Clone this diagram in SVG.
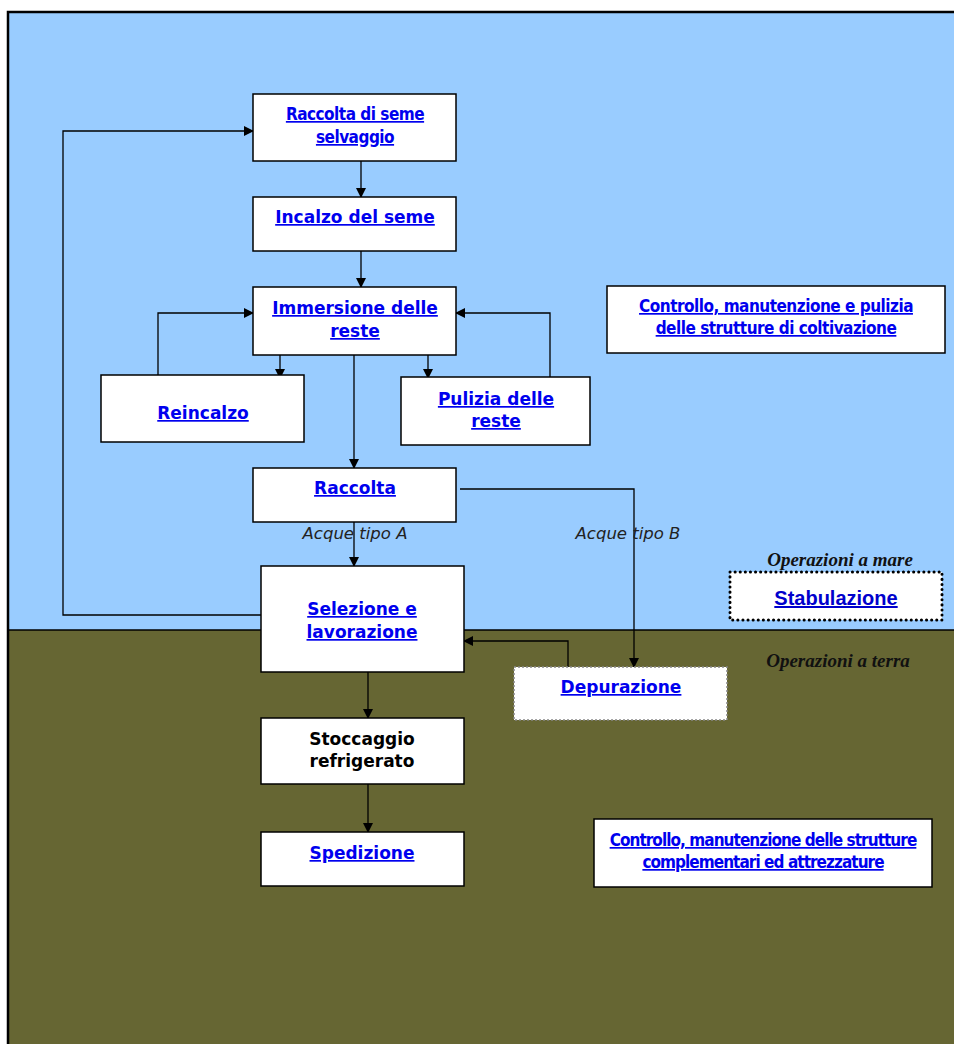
<svg xmlns="http://www.w3.org/2000/svg" width="954" height="1044" viewBox="0 0 954 1044">
<defs>
<marker id="ah" markerWidth="10" markerHeight="10" refX="9" refY="5" orient="auto" markerUnits="userSpaceOnUse">
<path d="M0,0 L10,5 L0,10 Z" fill="#000"/>
</marker>
<style>
.box{fill:#fff;stroke:#000;stroke-width:1.5}
.lk{font-family:"DejaVu Sans",Verdana,sans-serif;font-weight:bold;font-size:17px;fill:#0000ee;text-decoration:underline;text-anchor:middle}
.nk{font-family:"DejaVu Sans",Verdana,sans-serif;font-weight:bold;font-size:17px;fill:#000;text-anchor:middle}
.cd{font-family:"DejaVu Sans Condensed","DejaVu Sans",sans-serif;font-weight:bold;font-size:17px;fill:#0000ee;text-decoration:underline;text-anchor:middle;letter-spacing:-0.5px}
.tight{letter-spacing:-0.95px}
.it{font-family:"DejaVu Sans",Verdana,sans-serif;font-style:italic;font-size:16.5px;fill:#222;text-anchor:middle}
.op{font-family:"Liberation Serif","Times New Roman",serif;font-style:italic;font-weight:bold;font-size:19px;fill:#111;text-anchor:middle}
.cn{fill:none;stroke:#000;stroke-width:1.3}
</style>
</defs>
<rect x="0" y="0" width="954" height="1044" fill="#fff"/>
<rect x="8" y="12" width="950" height="618" fill="#99ccff"/>
<rect x="8" y="630" width="950" height="420" fill="#666633"/>
<line x1="8" y1="630" x2="954" y2="630" stroke="#000" stroke-width="1.5"/>
<path d="M8,1044 V12 H954" fill="none" stroke="#000" stroke-width="2.5"/>

<g id="connectors">
<path class="cn" d="M264,615 H63 V131 H253" marker-end="url(#ah)"/>
<path class="cn" d="M361,161 V197" marker-end="url(#ah)"/>
<path class="cn" d="M361,251 V287" marker-end="url(#ah)"/>
<path class="cn" d="M280,352 V378" marker-end="url(#ah)"/>
<path class="cn" d="M158,380 V313 H253" marker-end="url(#ah)"/>
<path class="cn" d="M428,352 V378" marker-end="url(#ah)"/>
<path class="cn" d="M550,380 V313 H456" marker-end="url(#ah)"/>
<path class="cn" d="M354,350 V468" marker-end="url(#ah)"/>
<path class="cn" d="M354,514 V566" marker-end="url(#ah)"/>
<path class="cn" d="M460,489 H634 V667" marker-end="url(#ah)"/>
<path class="cn" d="M568,668 V641 H464" marker-end="url(#ah)"/>
<path class="cn" d="M368,668 V718" marker-end="url(#ah)"/>
<path class="cn" d="M368,782 V832" marker-end="url(#ah)"/>
<text class="it" x="355" y="539">Acque tipo A</text>
<text class="it" x="628" y="539">Acque tipo B</text>
</g>

<g id="raccolta-seme">
<rect class="box" x="253" y="94" width="203" height="67"/>
<text class="cd" x="355" y="120">Raccolta  di seme</text>
<text class="cd" x="355" y="143">selvaggio</text>
</g>
<g id="incalzo">
<rect class="box" x="253" y="197" width="203" height="54"/>
<text class="lk" x="355" y="223">Incalzo del seme</text>
</g>
<g id="immersione">
<rect class="box" x="253" y="287" width="203" height="68"/>
<text class="lk" x="355" y="314">Immersione delle</text>
<text class="lk" x="355" y="337">reste</text>
</g>
<g id="reincalzo">
<rect class="box" x="101" y="375" width="203" height="67"/>
<text class="lk" x="203" y="419">Reincalzo</text>
</g>
<g id="pulizia">
<rect class="box" x="401" y="377" width="189" height="68"/>
<text class="lk" x="496" y="405">Pulizia delle</text>
<text class="lk" x="496" y="427">reste</text>
</g>
<g id="controllo-coltivazione">
<rect class="box" x="607" y="286" width="338" height="67"/>
<text class="cd" x="776" y="312">Controllo, manutenzione e pulizia</text>
<text class="cd" x="776" y="334">delle strutture di coltivazione</text>
</g>
<g id="raccolta">
<rect class="box" x="253" y="468" width="203" height="54"/>
<text class="lk" x="355" y="494">Raccolta</text>
</g>
<g id="selezione">
<rect class="box" x="261" y="566" width="203" height="106"/>
<text class="lk" x="362" y="615">Selezione e</text>
<text class="lk" x="362" y="638">lavorazione</text>
</g>
<g id="stabulazione">
<rect x="730" y="572" width="212" height="48" fill="#fff" stroke="#000" stroke-width="3" stroke-dasharray="0.1 5" stroke-linecap="round"/>
<text x="836" y="605" font-family="Liberation Sans,Arial,sans-serif" font-weight="bold" font-size="20px" fill="#0000cc" text-anchor="middle" text-decoration="underline">Stabulazione</text>
</g>
<text class="op" x="840" y="566">Operazioni a mare</text>
<text class="op" x="838" y="667">Operazioni a terra</text>
<g id="depurazione">
<rect x="514" y="667" width="213" height="53" fill="#fff" stroke="#888" stroke-width="1.5" stroke-dasharray="2 2"/>
<text class="lk" x="621" y="693">Depurazione</text>
</g>
<g id="stoccaggio">
<rect class="box" x="261" y="718" width="203" height="66"/>
<text class="nk" x="362" y="745">Stoccaggio</text>
<text class="nk" x="362" y="767">refrigerato</text>
</g>
<g id="spedizione">
<rect class="box" x="261" y="832" width="203" height="54"/>
<text class="lk" x="362" y="859">Spedizione</text>
</g>
<g id="controllo-complementari">
<rect class="box" x="594" y="819" width="338" height="68"/>
<text class="cd tight" x="763" y="846">Controllo, manutenzione delle strutture</text>
<text class="cd tight" x="763" y="868">complementari ed  attrezzature</text>
</g>
</svg>
